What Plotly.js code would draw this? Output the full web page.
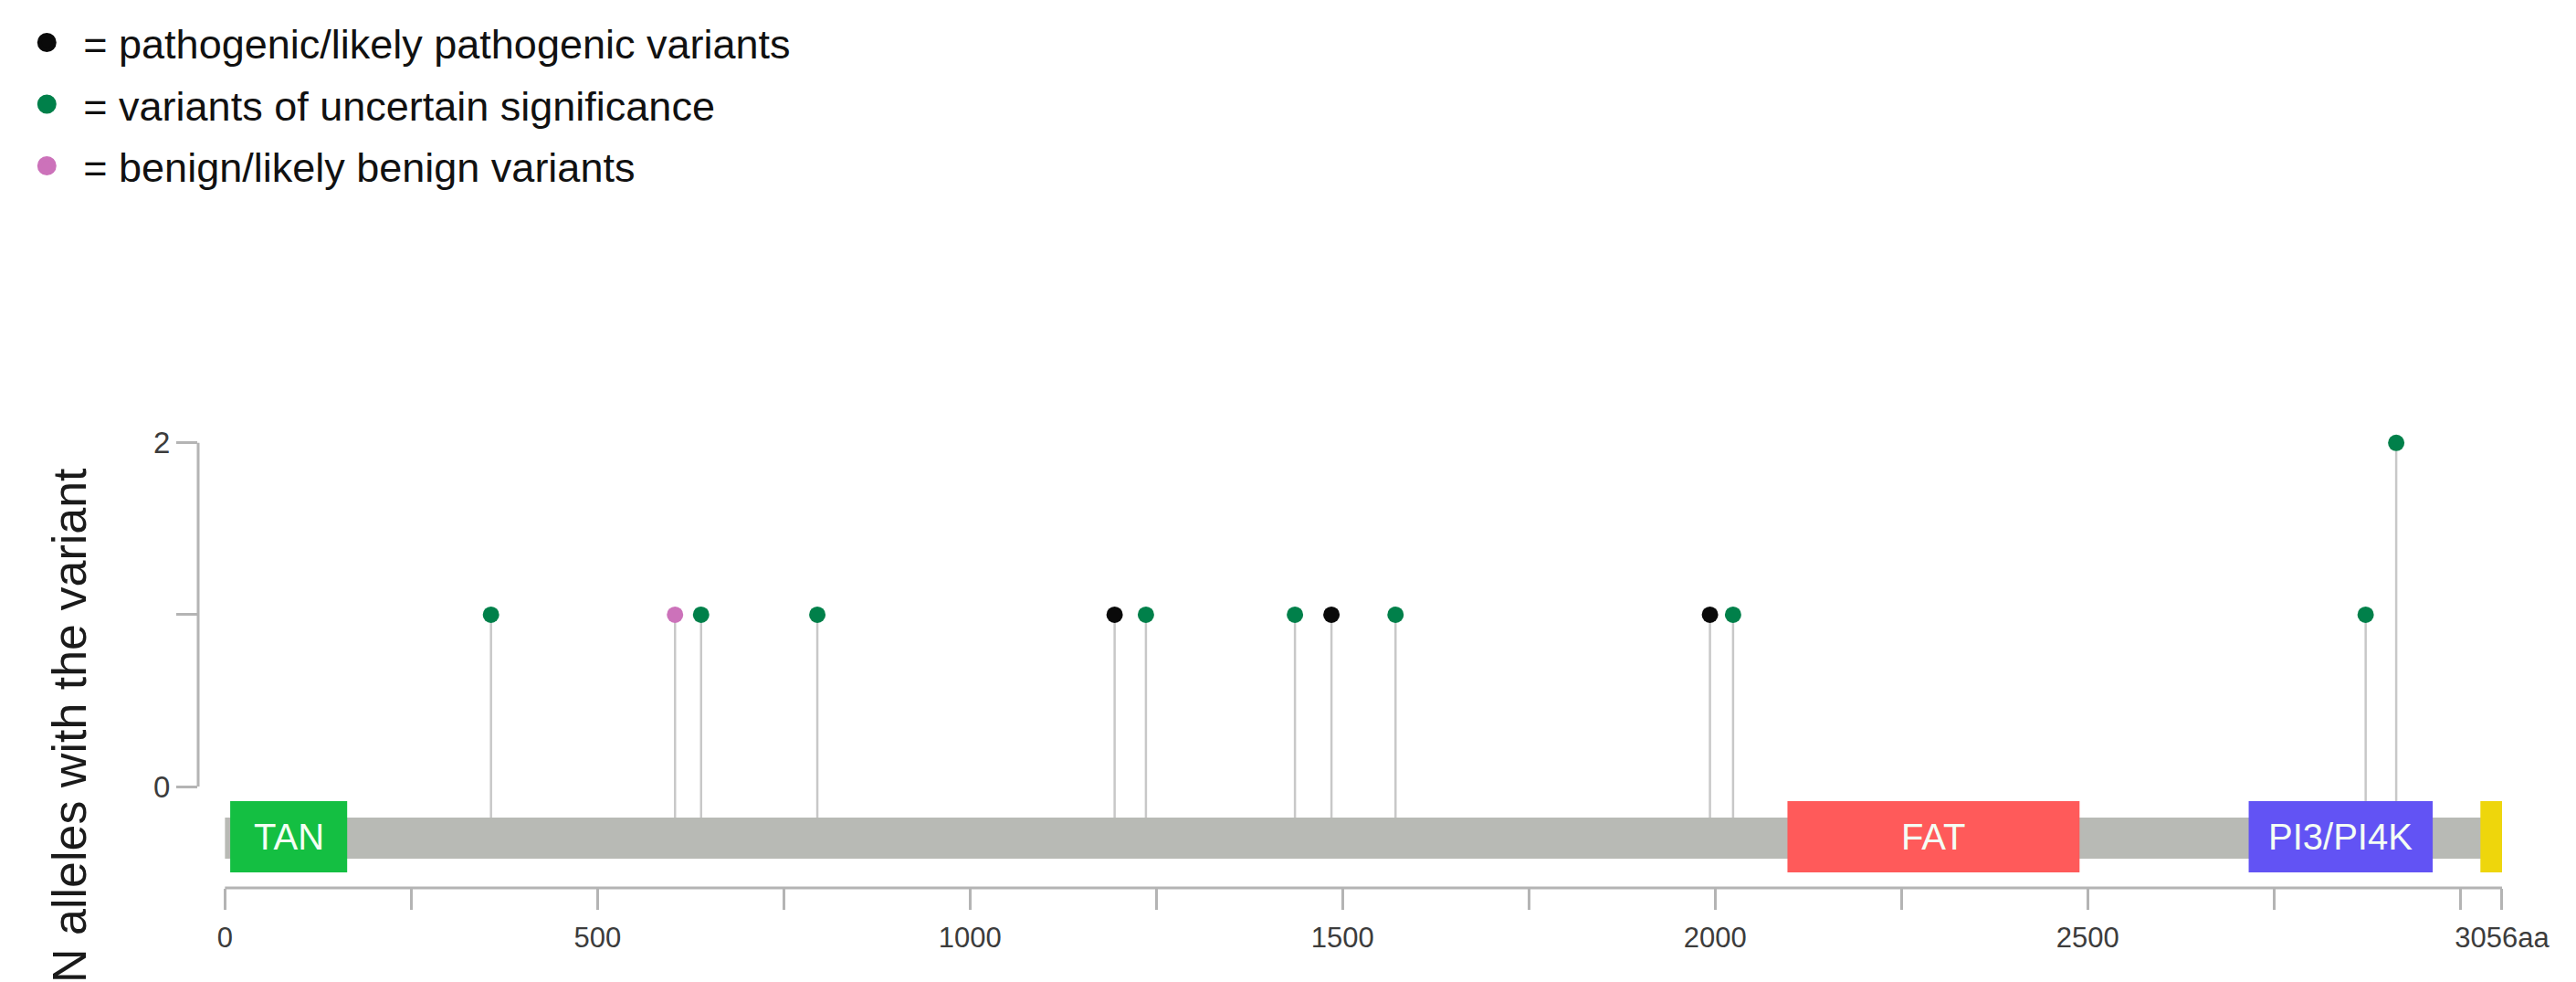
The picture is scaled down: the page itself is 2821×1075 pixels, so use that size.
<!DOCTYPE html>
<html>
<head>
<meta charset="utf-8">
<script src="https://cdn.plot.ly/plotly-3.0.1.min.js"></script>
<style>
  body { margin: 0; background: #fff; }
  #grafico { width: 2821px; height: 1075px; }
</style>
</head>
<body>
<div id="grafico"></div>
<script>
// protein length (aa)
const proteinLength = 3056;

// variants by class: position (aa) and number of alleles
const pathogenicPos = [1194, 1485, 1993];
const pathogenicN = [1, 1, 1];
const vusPos = [357, 639, 795, 1236, 1436, 1571, 2024, 2873, 2914];
const vusN = [1, 1, 1, 1, 1, 1, 1, 1, 2];
const benignPos = [604];
const benignN = [1];

const classNames = [
    '= pathogenic/likely pathogenic variants',
    '= variants of uncertain significance',
    '= benign/likely benign variants'
];
const classColors = ['#0a0a0a', '#00804a', '#cc72ba'];

// domains
const domainNames = ['TAN', 'FAT', 'PI3/PI4K', ''];
const domainStart = [7, 2097, 2716, 3027];
const domainEnd = [164, 2489, 2963, 3056];
const domainColors = ['#14bf42', '#ff5a5a', '#6253f4', '#eed60c'];

// x axis ticks
const xTickVals = [0, 250, 500, 750, 1000, 1250, 1500, 1750, 2000, 2250, 2500, 2750, 3000, 3056];
const xTickText = ['0', '', '500', '', '1000', '', '1500', '', '2000', '', '2500', '', '', '3056aa'];

const fuente = 'Liberation Sans, Arial, sans-serif';
const barTop = -0.18, barBottom = -0.42;
const domTop = -0.085, domBottom = -0.5;
const stemBase = -0.3;

function tallos(pos, n) {
    const xs = [], ys = [];
    pos.forEach((p, i) => {
        xs.push(p, p, null);
        ys.push(stemBase, n[i], null);
    });
    return { xs, ys };
}

const todosPos = pathogenicPos.concat(vusPos, benignPos);
const todosN = pathogenicN.concat(vusN, benignN);
const st = tallos(todosPos, todosN);

const data = [
    {
        x: st.xs, y: st.ys,
        type: 'scatter', mode: 'lines',
        line: { color: '#c8c8c8', width: 2.5 },
        showlegend: false, hoverinfo: 'skip'
    }
];

const clases = [[pathogenicPos, pathogenicN], [vusPos, vusN], [benignPos, benignN]];
clases.forEach((par, i) => {
    data.push({
        x: par[0], y: par[1],
        type: 'scatter', mode: 'markers',
        name: classNames[i],
        showlegend: false,
        marker: { color: classColors[i], size: 18 },
        cliponaxis: false
    });
});
// legend entries (bigger dots than the lollipop heads)
clases.forEach((par, i) => {
    data.push({
        x: [null], y: [null],
        type: 'scatter', mode: 'markers',
        name: classNames[i],
        legendgroup: 'g' + i,
        marker: { color: classColors[i], size: 16, line: { color: classColors[i], width: 5 } }
    });
});

const shapes = [
    // protein backbone
    {
        type: 'rect', xref: 'x', yref: 'y', layer: 'above',
        x0: 0, x1: proteinLength, y0: barBottom, y1: barTop,
        fillcolor: '#b8bab5', line: { width: 0 }
    },
    // x axis line
    {
        type: 'line', xref: 'x', yref: 'paper', layer: 'above',
        x0: 0, x1: proteinLength, y0: 0, y1: 0,
        line: { color: '#b4b4b4', width: 3 }
    },
    // y axis line
    {
        type: 'line', xref: 'paper', yref: 'y', layer: 'above',
        x0: 0, x1: 0, y0: 0, y1: 2,
        line: { color: '#b4b4b4', width: 3 }
    }
];

const annotations = [
    {
        text: 'N alleles with the variant',
        xref: 'paper', yref: 'paper', x: -0.055, y: 0.352,
        xanchor: 'center', yanchor: 'middle', textangle: -90,
        showarrow: false,
        font: { family: fuente, size: 52, color: '#1a1a1a' }
    }
];

domainNames.forEach((nombre, i) => {
    shapes.push({
        type: 'rect', xref: 'x', yref: 'y', layer: 'above',
        x0: domainStart[i], x1: domainEnd[i], y0: domBottom, y1: domTop,
        fillcolor: domainColors[i], line: { width: 0 }
    });
    if (nombre) {
        annotations.push({
            text: nombre,
            xref: 'x', yref: 'y',
            x: (domainStart[i] + domainEnd[i]) / 2, y: (domTop + domBottom) / 2,
            showarrow: false,
            font: { family: fuente, size: 40, color: '#f4fff4' }
        });
    }
});

const layout = {
    width: 2821,
    height: 1075,
    margin: { l: 217, r: 43, t: 466, b: 103, autoexpand: false },
    paper_bgcolor: '#ffffff',
    plot_bgcolor: '#ffffff',
    font: { family: fuente, color: '#3c3c3c' },
    showlegend: true,
    legend: {
        xref: 'container', yref: 'container',
        x: 0.004, y: 0.99, xanchor: 'left', yanchor: 'top',
        font: { family: fuente, size: 45, color: '#111' },
        itemwidth: 70,
        tracegroupgap: 6,
        bgcolor: 'rgba(0,0,0,0)'
    },
    xaxis: {
        range: [-36, 3102.6],
        showgrid: false, zeroline: false, showline: false,
        tickmode: 'array', tickvals: xTickVals, ticktext: xTickText,
        ticks: 'outside', ticklen: 23, tickwidth: 3, tickcolor: '#b4b4b4',
        ticklabelstandoff: 4,
        tickfont: { family: fuente, size: 31, color: '#3c3c3c' }
    },
    yaxis: {
        range: [-0.59, 2.1],
        showgrid: false, zeroline: false, showline: false,
        tickmode: 'array', tickvals: [0, 1, 2], ticktext: ['0', '', '2'],
        ticks: 'outside', ticklen: 23, tickwidth: 3, tickcolor: '#b4b4b4',
        tickfont: { family: fuente, size: 33, color: '#3c3c3c' }
    },
    shapes: shapes,
    annotations: annotations
};

Plotly.newPlot('grafico', data, layout, { displayModeBar: false, staticPlot: true });
</script>
</body>
</html>
